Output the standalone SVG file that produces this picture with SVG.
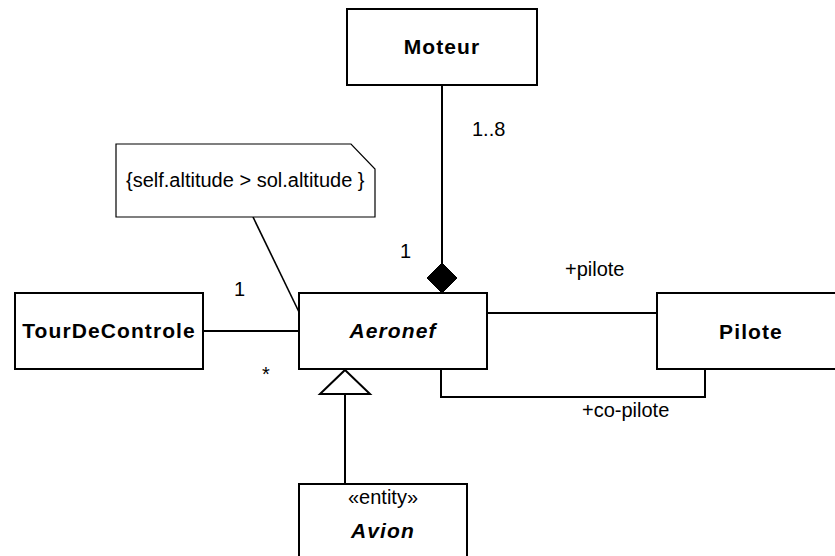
<svg xmlns="http://www.w3.org/2000/svg" width="835" height="556" viewBox="0 0 835 556">
  <style>
    .box { fill: #ffffff; stroke: #000000; stroke-width: 2; }
    .note { fill: #ffffff; stroke: #000000; stroke-width: 1.2; }
    .edge { fill: none; stroke: #000000; stroke-width: 2; }
    .name { font-family: "Liberation Sans", Arial, sans-serif; font-size: 21px; font-weight: bold; text-anchor: middle; letter-spacing: 1.1px; fill: #000000; }
    .abstract { font-style: italic; }
    .lbl { font-family: "Liberation Sans", Arial, sans-serif; font-size: 20px; fill: #000000; }
  </style>

  <!-- associations, composition and generalization -->
  <g id="connectors">
    <line class="edge" x1="442" y1="85" x2="442" y2="263"/>
    <polygon points="442,263 457,278 442,293 427,278" fill="#000000" stroke="#000000" stroke-width="1"/>
    <line class="edge" x1="203" y1="331" x2="299" y2="331"/>
    <line class="edge" x1="487" y1="313" x2="657" y2="313"/>
    <polyline class="edge" points="441,369 441,397 705,397 705,369"/>
    <line class="edge" x1="345" y1="394" x2="345" y2="484"/>
    <polygon points="345,370 370,394 320,394" fill="#ffffff" stroke="#000000" stroke-width="2"/>
    <line x1="253" y1="217" x2="299" y2="312" stroke="#000000" stroke-width="1.6"/>
    <text class="lbl" x="472" y="136">1..8</text>
    <text class="lbl" x="400" y="258">1</text>
    <text class="lbl" x="565" y="276">+pilote</text>
    <text class="lbl" x="234" y="296">1</text>
    <text class="lbl" x="262" y="381">*</text>
    <text class="lbl" x="582" y="417">+co-pilote</text>
  </g>

  <g id="note">
    <path class="note" d="M116,144 H351 L375,169 V217 H116 Z"/>
    <text class="lbl" x="126" y="187" font-size="20.8">{self.altitude &gt; sol.altitude  }</text>
  </g>

  <g id="moteur">
    <rect class="box" x="347" y="9" width="190" height="76"/>
    <text class="name" x="442" y="54">Moteur</text>
  </g>

  <g id="tourDeControle">
    <rect class="box" x="15" y="293" width="188" height="76"/>
    <text class="name" x="109" y="338">TourDeControle</text>
  </g>

  <g id="aeronef">
    <rect class="box" x="299" y="293" width="188" height="76"/>
    <text class="name abstract" x="393" y="338">Aeronef</text>
  </g>

  <g id="pilote">
    <rect class="box" x="657" y="293" width="188" height="76"/>
    <text class="name" x="751" y="339">Pilote</text>
  </g>

  <g id="avion">
    <rect class="box" x="299" y="484" width="168" height="90"/>
    <text class="lbl" x="383" y="504" text-anchor="middle" font-size="21">«entity»</text>
    <text class="name abstract" x="383" y="538">Avion</text>
  </g>
</svg>
